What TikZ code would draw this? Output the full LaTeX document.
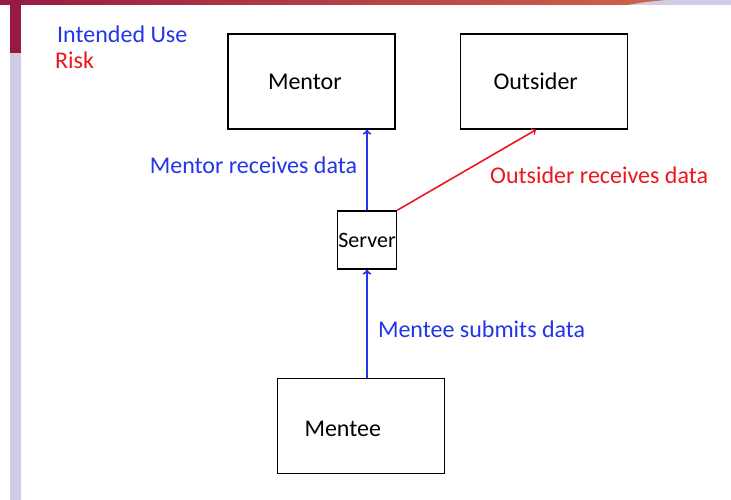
\documentclass[tikz,border=0pt]{standalone}
\usepackage{fontspec}
\setmainfont{Carlito}
\usetikzlibrary{shapes,arrows,positioning}
\definecolor{useblue}{RGB}{34,54,232}
\definecolor{riskred}{RGB}{236,22,30}
\definecolor{barred}{RGB}{152,26,66}
\definecolor{barorange}{RGB}{204,100,74}
\definecolor{barlilac}{RGB}{208,204,228}
\tikzset{
        block/.style = {draw, line width=1.5pt, fill=white, rectangle, minimum height=95pt, minimum width=167pt, align=left, font=\fontsize{24}{29}\selectfont},
        smallblock/.style = {draw, line width=1.5pt, fill=white, rectangle, minimum height=58pt, minimum width=59pt, inner sep=0pt, font=\fontsize{22}{26}\selectfont},
        usenote/.style = {text=useblue, inner sep=0pt, font=\fontsize{24}{29}\selectfont},
        risknote/.style = {text=riskred, inner sep=0pt, font=\fontsize{24}{29}\selectfont},
        usearrow/.style = {->, draw=useblue, line width=2pt},
        riskarrow/.style = {->, draw=riskred, line width=1.6pt},
    }

\begin{document}
\begin{tikzpicture}[x=1pt, y=-1pt, >=to]
    \useasboundingbox (0,0) rectangle (731,500);
    % slide frame
    \fill[barlilac] (0,0) rectangle (731,5);
    \shade[left color=barred, right color=barorange] (0,0) -- (665,0) .. controls (645,2) .. (627,5) -- (0,5) -- cycle;
    \fill[barred] (10,0) rectangle (21,53);
    \fill[barlilac] (10,53) rectangle (21,500);

    % legend
    \node [usenote, anchor=base west] (intended) at (57,43) {Intended Use};
    \node [risknote, anchor=base west] (risk) at (55,69) {Risk};

    \node [block, text width=87pt] (mentor) at (311.5,81.5) {Mentor};
    \node [block, text width=101pt, right=64pt of mentor] (outsider) {Outsider};
    \node [smallblock] (server) at (367,240) {Server};
    \node [block, text width=113pt, text height=22pt, below=108pt of server, xshift=-6pt] (mentee) {Mentee};

    \draw [usearrow] (server.north) -- node [usenote, left=9pt, pos=0.56] (mentorrx) {Mentor receives data} (server.north |- mentor.south);
    \draw [riskarrow] (server.north east) -- node [risknote, anchor=west, pos=0.664, yshift=-18pt] (outsiderrx) {Outsider receives data} ([xshift=-8pt]outsider.south);
    \draw [usearrow] (server.south |- mentee.north) -- node [usenote, right=10pt, pos=0.45] (menteetx) {Mentee submits data} (server.south);

\end{tikzpicture}
\end{document}
